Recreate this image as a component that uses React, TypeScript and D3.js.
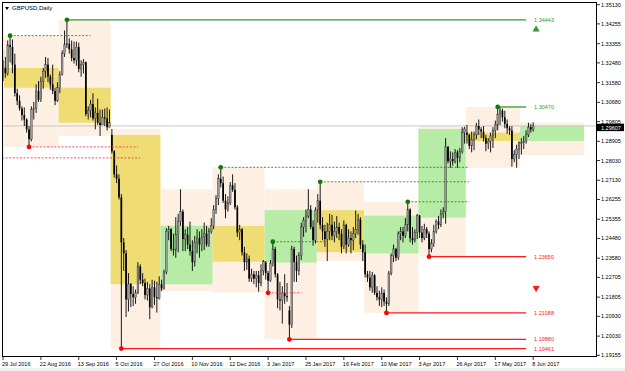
import React from "react";
import * as d3 from "d3";

// ---------- daily GBPUSD candles (29 Jul 2016 .. 8 Jun 2017) ----------
const opens = [
  1.3180,
  1.3225,1.3200,1.3330,1.3320,1.3240,1.3110,1.3075,1.3040,1.3010,1.2990,1.2945,1.2900,1.3035,1.3040,1.3120,1.3080,1.3165,1.3210,1.3240,1.3185,1.3150,1.3120,1.3075,
  1.3135,1.3195,1.3290,1.3330,1.3335,1.3310,1.3270,1.3260,1.3320,1.3220,1.3240,1.3250,1.3015,1.3030,1.3060,1.2995,1.3020,1.2975,1.2965,1.3000,1.2995,1.2955,
  1.2920,1.2845,1.2740,1.2720,1.2635,1.2430,1.2380,1.2170,1.2240,1.2195,1.2180,1.2200,1.2320,1.2260,1.2245,1.2190,1.2220,1.2135,1.2225,1.2180,1.2175,
  1.2239,1.2220,1.2295,1.2480,1.2490,1.2400,1.2395,1.2465,1.2525,1.2570,1.2445,1.2465,1.2420,1.2390,1.2340,1.2430,1.2450,1.2420,1.2455,1.2470,1.2420,1.2480,
  1.2506,1.2580,1.2630,1.2720,1.2700,1.2620,1.2580,1.2610,1.2690,1.2670,1.2590,1.2475,1.2490,1.2385,1.2340,1.2355,1.2265,1.2285,1.2265,1.2280,1.2245,1.2300,
  1.2338,1.2290,1.2255,1.2335,1.2400,1.2285,1.2170,1.2165,1.2200,1.2185,1.2120,1.2055,1.2400,1.2340,1.2300,1.2370,1.2500,1.2530,1.2550,1.2580,1.2500,1.2440,
  1.2577,1.2620,1.2510,1.2480,1.2445,1.2480,1.2510,1.2460,1.2480,1.2500,1.2470,1.2410,1.2510,1.2420,1.2450,1.2440,1.2470,1.2490,1.2535,1.2420,
  1.2385,1.2285,1.2270,1.2225,1.2280,1.2200,1.2180,1.2170,1.2200,1.2160,1.2150,1.2290,1.2370,1.2400,1.2360,1.2470,1.2480,1.2460,1.2510,1.2580,1.2450,1.2440,1.2475,
  1.2552,1.2475,1.2450,1.2490,1.2470,1.2400,1.2425,1.2480,1.2525,1.2510,1.2560,1.2570,1.2865,1.2800,1.2810,1.2800,1.2840,1.2815,1.2845,1.2930,
  1.2930,1.2920,1.2870,1.2900,1.2920,1.2960,1.2945,1.2935,1.2905,1.2880,1.2890,1.2915,1.2940,1.2965,1.3015,1.3030,1.3000,1.2970,1.2950,1.2940,1.2810,1.2830,1.2855,
  1.2885,1.2885,1.2890,1.2920,1.2955,1.2945,
];
const highs = [
  1.3260,
  1.3275,1.3350,1.3372,1.3355,1.3290,1.3130,1.3100,1.3050,1.3045,1.2995,1.2960,1.3050,1.3070,1.3150,1.3165,1.3185,1.3225,1.3275,1.3270,1.3195,1.3240,1.3135,1.3160,
  1.3210,1.3305,1.3395,1.34443,1.3360,1.3350,1.3345,1.3345,1.3340,1.3260,1.3265,1.3255,1.3050,1.3080,1.3110,1.3045,1.3085,1.3035,1.3035,1.3040,1.3045,1.3035,
  1.2947,1.2850,1.2780,1.2740,1.2650,1.2450,1.2395,1.2290,1.2245,1.2230,1.2215,1.2340,1.2330,1.2290,1.2265,1.2250,1.2240,1.2260,1.2255,1.2250,1.2275,
  1.2260,1.2305,1.2495,1.2505,1.2495,1.2470,1.2545,1.2560,1.2672,1.2580,1.2490,1.2500,1.2525,1.2440,1.2460,1.2490,1.2480,1.2490,1.2520,1.2505,1.2495,1.2540,
  1.2600,1.2645,1.2740,1.2772,1.2730,1.2650,1.2640,1.2705,1.2740,1.2700,1.2600,1.2510,1.2495,1.2410,1.2380,1.2370,1.2310,1.2300,1.2300,1.2300,1.2330,1.2350,
  1.2345,1.2300,1.2350,1.2433,1.2410,1.2290,1.2250,1.2230,1.2285,1.2245,1.2140,1.2415,1.2410,1.2370,1.2385,1.2520,1.2545,1.2580,1.2672,1.2600,1.2530,1.2590,
  1.2650,1.2706,1.2545,1.2510,1.2520,1.2560,1.2555,1.2525,1.2550,1.2520,1.2490,1.2530,1.2515,1.2490,1.2480,1.2500,1.2575,1.2560,1.2545,1.2440,
  1.2420,1.2300,1.2300,1.2295,1.2285,1.2230,1.2210,1.2225,1.2215,1.2180,1.2300,1.2380,1.2420,1.2405,1.2480,1.2500,1.2500,1.2540,1.2615,1.2585,1.2500,1.2490,1.2560,
  1.2555,1.2505,1.2515,1.2500,1.2480,1.2445,1.2510,1.2535,1.2550,1.2580,1.2590,1.2905,1.2870,1.2845,1.2840,1.2855,1.2850,1.2860,1.2955,1.2957,
  1.2965,1.2925,1.2935,1.2935,1.2975,1.2990,1.2955,1.2960,1.2920,1.2905,1.2930,1.2955,1.2985,1.30470,1.3045,1.3040,1.3030,1.2990,1.2960,1.2960,1.2850,1.2875,1.2890,
  1.2905,1.2915,1.2940,1.2975,1.2970,1.2977,
];
const lows = [
  1.3165,
  1.3180,1.3190,1.3250,1.3200,1.3095,1.3055,1.3030,1.2985,1.2960,1.2930,1.2865,1.2890,1.2990,1.3020,1.3070,1.3070,1.3130,1.3180,1.3160,1.3125,1.3105,1.3055,1.3070,
  1.3110,1.3190,1.3275,1.3315,1.3290,1.3255,1.3245,1.3235,1.3205,1.3185,1.3200,1.3005,1.2990,1.3000,1.2985,1.2945,1.2965,1.2915,1.2965,1.2960,1.2940,1.2955,
  1.2835,1.2725,1.2700,1.2625,1.19461,1.2300,1.2090,1.2115,1.2135,1.2140,1.2150,1.2195,1.2240,1.2230,1.2170,1.2165,1.2080,1.2130,1.2145,1.2110,1.2170,
  1.2208,1.2215,1.2285,1.2440,1.2390,1.2370,1.2360,1.2385,1.2505,1.2390,1.2390,1.2400,1.2370,1.2300,1.2320,1.2380,1.2360,1.2390,1.2395,1.2410,1.2410,1.2470,
  1.2490,1.2560,1.2600,1.2680,1.2610,1.2540,1.2570,1.2600,1.2660,1.2580,1.2455,1.2440,1.2370,1.2300,1.2305,1.2250,1.2250,1.2240,1.2225,1.2205,1.2230,1.2280,
  1.2260,1.2200,1.2250,1.2320,1.2270,1.2130,1.2120,1.2060,1.2150,1.2160,1.19880,1.2040,1.2250,1.2250,1.2280,1.2350,1.2455,1.2475,1.2540,1.2490,1.2415,1.2425,
  1.2520,1.2490,1.2440,1.2410,1.2345,1.2440,1.2440,1.2430,1.2450,1.2440,1.2380,1.2400,1.2380,1.2410,1.2380,1.2395,1.2450,1.2465,1.2400,1.2345,
  1.2270,1.2250,1.2210,1.2200,1.2190,1.2165,1.2140,1.2135,1.2140,1.21088,1.2140,1.2280,1.2340,1.2345,1.2350,1.2440,1.2430,1.2450,1.2480,1.2430,1.2420,1.2430,1.2445,
  1.2450,1.2430,1.2440,1.2450,1.23650,1.2385,1.2410,1.2470,1.2490,1.2500,1.2540,1.2515,1.2790,1.2770,1.2780,1.2790,1.2770,1.2795,1.2835,1.2880,
  1.2880,1.2855,1.2840,1.2850,1.2900,1.2920,1.2905,1.2890,1.2845,1.2855,1.2840,1.2860,1.2905,1.2940,1.2965,1.2980,1.2950,1.2925,1.2920,1.2775,1.2795,1.2770,1.2810,
  1.2830,1.2855,1.2880,1.2910,1.2930,1.2935,
];
const closes = [
  1.3225,
  1.3200,1.3330,1.3320,1.3240,1.3110,1.3075,1.3040,1.3010,1.2990,1.2945,1.2900,1.3035,1.3040,1.3120,1.3080,1.3165,1.3210,1.3240,1.3185,1.3150,1.3120,1.3075,1.3135,
  1.3195,1.3290,1.3330,1.3335,1.3310,1.3270,1.3260,1.3320,1.3220,1.3240,1.3250,1.3015,1.3030,1.3060,1.2995,1.3020,1.2975,1.2965,1.3000,1.2995,1.2955,1.2975,
  1.2845,1.2740,1.2720,1.2635,1.2430,1.2380,1.2170,1.2240,1.2195,1.2180,1.2200,1.2320,1.2260,1.2245,1.2190,1.2220,1.2135,1.2225,1.2180,1.2175,1.2239,
  1.2220,1.2295,1.2480,1.2490,1.2400,1.2395,1.2465,1.2525,1.2570,1.2445,1.2465,1.2420,1.2390,1.2340,1.2430,1.2450,1.2420,1.2455,1.2470,1.2420,1.2480,1.2506,
  1.2580,1.2630,1.2720,1.2700,1.2620,1.2580,1.2610,1.2690,1.2670,1.2590,1.2475,1.2490,1.2385,1.2340,1.2355,1.2265,1.2285,1.2265,1.2280,1.2245,1.2300,1.2342,
  1.2290,1.2255,1.2335,1.2400,1.2285,1.2170,1.2165,1.2200,1.2185,1.2180,1.2055,1.2400,1.2340,1.2300,1.2370,1.2500,1.2530,1.2550,1.2580,1.2500,1.2440,1.2577,
  1.2620,1.2510,1.2480,1.2445,1.2480,1.2510,1.2460,1.2480,1.2500,1.2470,1.2410,1.2510,1.2420,1.2450,1.2440,1.2470,1.2490,1.2535,1.2420,1.2385,
  1.2285,1.2270,1.2225,1.2280,1.2200,1.2180,1.2170,1.2200,1.2160,1.2150,1.2290,1.2370,1.2400,1.2360,1.2470,1.2480,1.2460,1.2510,1.2580,1.2450,1.2440,1.2475,1.2552,
  1.2475,1.2450,1.2490,1.2470,1.2400,1.2425,1.2480,1.2525,1.2510,1.2560,1.2570,1.2865,1.2800,1.2810,1.2800,1.2840,1.2815,1.2845,1.2930,1.2947,
  1.2920,1.2870,1.2900,1.2920,1.2960,1.2945,1.2935,1.2905,1.2880,1.2890,1.2915,1.2940,1.2965,1.3015,1.3030,1.3000,1.2970,1.2950,1.2940,1.2810,1.2830,1.2855,1.2885,
  1.2885,1.2890,1.2920,1.2955,1.2945,1.29607,
];

// ---------- monthly range boxes ----------
const monthStart = [0, 1, 24, 46, 67, 89, 111, 133, 153, 176, 196, 219];
const monthEnd = [0, 23, 45, 66, 88, 110, 132, 152, 175, 195, 218, 245];
const monthOpen = [1.3305, 1.3225, 1.3135, 1.2920, 1.2239, 1.2505, 1.2338, 1.2577, 1.2380, 1.2543, 1.2930, 1.2892];
const monthHigh = [1.3480, 1.3372, 1.34443, 1.2947, 1.2672, 1.2772, 1.2672, 1.2706, 1.2615, 1.2957, 1.3047, 1.2977];
const monthLow = [1.2798, 1.2865, 1.2915, 1.19461, 1.2208, 1.2201, 1.1988, 1.2345, 1.2109, 1.2365, 1.2770, 1.2828];
const monthClose = [1.3160, 1.3135, 1.2975, 1.2239, 1.2506, 1.2342, 1.2577, 1.2385, 1.2552, 1.2947, 1.2892, 1.2961];

// ---------- swing levels ----------
const levelPrice = [1.3372, 1.34443, 1.2772, 1.2433, 1.2706, 1.2615, 1.3047, 1.2865, 1.2815, 1.19461, 1.2200, 1.1988, 1.21088, 1.2365];
const levelFrom = [3, 27, 92, 114, 134, 171, 209, 11, -1, 50, 112, 121, 162, 180];
const levelTo = [37, 221, 197, 137, 197, 197, 221, 57, 58, 221, 126, 221, 221, 221];
const levelKind = ["high", "high", "high", "high", "high", "high", "high", "low", "low", "low", "low", "low", "low", "low"];
const levelSolid = [false, true, false, false, false, false, true, false, false, true, false, true, true, true];
const levelLabel = ["", "1.34443", "", "", "", "", "1.30470", "", "", "1.19461", "", "1.19880", "1.21088", "1.23650"];
const arrowUpPrice = 1.3400;
const arrowDownPrice = 1.2222;

// ---------- axes ----------
const priceTicks = [1.3513, 1.34255, 1.33355, 1.3248, 1.3158, 1.3068, 1.29805, 1.28905, 1.2803, 1.2713, 1.26255, 1.25355, 1.2448, 1.2358, 1.22705, 1.21805, 1.2093, 1.2003, 1.19155];
const dateTickIndex = [0, 16, 32, 48, 64, 80, 96, 112, 128, 144, 160, 176, 192, 208, 224];
const dateTickLabel = ["29 Jul 2016", "22 Aug 2016", "13 Sep 2016", "5 Oct 2016", "27 Oct 2016", "10 Nov 2016", "12 Dec 2016", "3 Jan 2017", "25 Jan 2017", "16 Feb 2017", "10 Mar 2017", "3 Apr 2017", "26 Apr 2017", "17 May 2017", "8 Jun 2017"];
const lastPrice = 1.29607;
const symbolTitle = "GBPUSD,Daily";

const W = 625, H = 371;
const L = 2, R = 597, T = 2, B = 357;
const FONT = "'Liberation Sans', Arial, sans-serif";

export default function App() {
  const x = d3.scaleLinear().domain([0, 224]).range([3, 3 + 224 * 2.367]);
  const y = d3.scaleLinear().domain([1.19155, 1.3513]).range([355.3, 4.7]);
  const bw = 2.367;
  const fmt = d3.format(".5f");
  const tri = d3.symbol().type(d3.symbolTriangle).size(22);
  const yl = y(lastPrice);

  return (
    <svg width={W} height={H} style={{ position: "fixed", left: 0, top: 0, background: "#fff" }} fontFamily={FONT}>
      <defs>
        <clipPath id="plot"><rect x={L} y={T} width={R - L} height={B - T} /></clipPath>
      </defs>
      <rect x={0} y={0} width={W} height={H} fill="#fff" />
      <g clipPath="url(#plot)">
        {monthStart.map((s, k) => (
          <rect key={"mr" + k} x={x(s) - bw / 2} width={x(monthEnd[k]) - x(s) + bw}
            y={y(monthHigh[k])} height={y(monthLow[k]) - y(monthHigh[k])} fill="#fdf0e3" />
        ))}
        {monthStart.map((s, k) => {
          const o = monthOpen[k], c = monthClose[k];
          return (
            <rect key={"mb" + k} x={x(s) - bw / 2} width={x(monthEnd[k]) - x(s) + bw}
              y={y(Math.max(o, c))} height={Math.abs(y(o) - y(c))} fill={c >= o ? "#b6eca6" : "#efdd74"} />
          );
        })}
        <line x1={L} x2={R} y1={yl} y2={yl} stroke="#c6c6c6" strokeWidth={1} />
        {closes.map((c, i) => {
          const o = opens[i];
          const cx = x(i);
          const top = y(Math.max(o, c)), bot = y(Math.min(o, c));
          const bull = c >= o;
          return (
            <g key={"c" + i}>
              <line x1={cx} x2={cx} y1={y(highs[i])} y2={y(lows[i])} stroke="#000" strokeWidth={0.9} />
              <rect x={cx - 0.85} width={1.7} y={top} height={Math.max(0.8, bot - top)}
                fill={bull ? "#9a9a9a" : "#000"} stroke={bull ? "#333" : "none"} strokeWidth={0.4} />
            </g>
          );
        })}
        {levelPrice.map((p, k) => {
          const hi = levelKind[k] === "high";
          const solid = levelSolid[k];
          const col = hi ? (solid ? "#2f9a2f" : "#1f8f1f") : (solid ? "#ff1a1a" : "#ff3355");
          const x1 = levelFrom[k] < 0 ? L : x(levelFrom[k]);
          return (
            <line key={"lv" + k} x1={x1} x2={x(levelTo[k])} y1={y(p)} y2={y(p)} stroke={col}
              strokeWidth={solid ? 1.3 : 0.9} strokeDasharray={solid ? undefined : "2,1.6"} />
          );
        })}
        {levelPrice.map((p, k) => levelFrom[k] >= 0 ? (
          <circle key={"ld" + k} cx={x(levelFrom[k])} cy={y(p)} r={2.4}
            fill={levelKind[k] === "high" ? "#0c7c0c" : "#ff0000"} />
        ) : null)}
        {levelPrice.map((p, k) => levelLabel[k] ? (
          <text key={"ll" + k} x={x(levelTo[k]) + 8} y={y(p) + 2} fontSize={5.5}
            fill={levelKind[k] === "high" ? "#2f9a2f" : "#ff1a1a"}>{levelLabel[k]}</text>
        ) : null)}
        <path d={tri() || ""} transform={`translate(${x(221) + 10},${y(arrowUpPrice)})`} fill="#2f9a2f" />
        <path d={tri() || ""} transform={`translate(${x(221) + 10},${y(arrowDownPrice)}) rotate(180)`} fill="#ff1a1a" />
      </g>

      <rect x={L + 0.5} y={T + 0.5} width={R - L - 1} height={B - T - 1} fill="none" stroke="#000" strokeWidth={1} />

      <path d="M5,7 L9,7 L7,10 Z" fill="#000" />
      <text x={12} y={10} fontSize={6} fill="#000">{symbolTitle}</text>

      {priceTicks.map((v, k) => (
        <g key={"pt" + k}>
          <line x1={R} x2={R + 3} y1={y(v)} y2={y(v)} stroke="#000" strokeWidth={0.8} />
          <text x={R + 4} y={y(v) + 2} fontSize={5.5} fill="#000">{fmt(v)}</text>
        </g>
      ))}
      <rect x={R} y={yl - 2.2} width={27} height={7.4} fill="#000" />
      <text x={R + 4} y={yl + 3.6} fontSize={5.5} fill="#fff">{fmt(lastPrice)}</text>

      {dateTickIndex.map((i, k) => (
        <g key={"dt" + k}>
          <line x1={x(i)} x2={x(i)} y1={B} y2={B + 3} stroke="#000" strokeWidth={0.8} />
          <text x={x(i) - 1} y={B + 9} fontSize={5.5} fill="#000">{dateTickLabel[k]}</text>
        </g>
      ))}
      <rect x={0} y={368} width={W} height={3} fill="#f0f0f0" />
    </svg>
  );
}
